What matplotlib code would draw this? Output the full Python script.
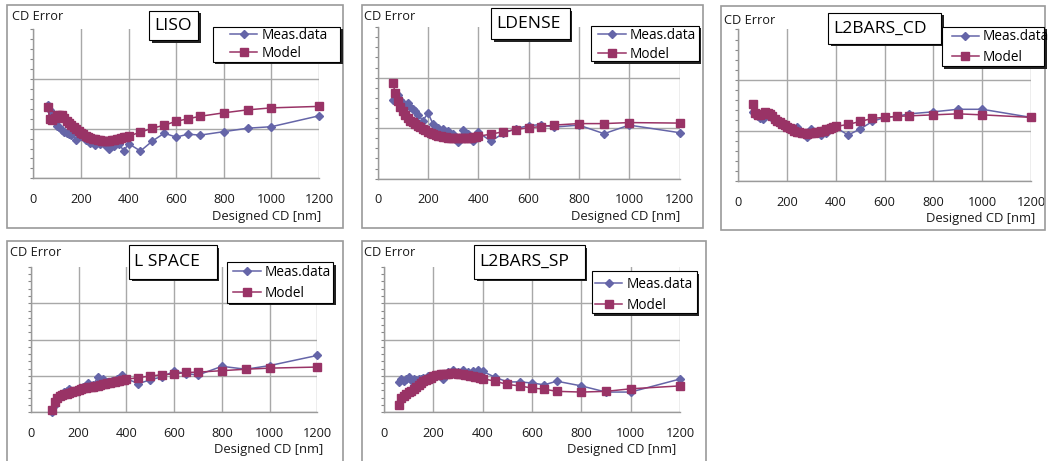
import matplotlib
matplotlib.use("Agg")
import matplotlib.pyplot as plt
from matplotlib.patches import Rectangle
from matplotlib.ticker import MultipleLocator, FixedLocator

plt.rcParams['font.family'] = ['Open Sans', 'DejaVu Sans']

# ---------------- data ----------------
X_TICKS = [0, 200, 400, 600, 800, 1000, 1200]
SERIES_NAMES = ["Meas.data", "Model"]
PANEL_TITLES = ["LISO", "LDENSE", "L2BARS_CD", "L SPACE", "L2BARS_SP"]
Y_LABEL = "CD Error"
X_LABEL = "Designed CD [nm]"

X_MODEL = [60, 70, 80, 90, 100, 110, 120, 130, 140, 150, 160, 170, 180, 190, 200,
           210, 220, 230, 240, 250, 260, 270, 280, 290, 300, 310, 320, 330, 340, 350,
           360, 370, 380, 390, 400, 450, 500, 550, 600, 650, 700, 800, 900, 1000, 1200]
X_MEAS = [60, 70, 80, 90, 100, 110, 120, 130, 140, 150, 160, 180, 200, 220, 240,
          260, 280, 300, 320, 340, 360, 380, 400, 450, 500, 550, 600, 650, 700, 800,
          900, 1000, 1200]
X_MODEL_LS = [90, 100, 110, 120, 130, 140, 150, 160, 170, 180, 190, 200, 210, 220, 230,
              240, 250, 260, 270, 280, 290, 300, 310, 320, 330, 340, 350, 360, 370, 380,
              390, 400, 450, 500, 550, 600, 650, 700, 800, 900, 1000, 1200]
X_MEAS_LS = [90, 100, 110, 120, 130, 140, 150, 160, 180, 200, 220, 240, 260, 280, 300,
             320, 340, 360, 380, 400, 450, 500, 550, 600, 650, 700, 800, 900, 1000, 1200]

LISO_MODEL = [0.44, 0.20, 0.18, 0.22, 0.27, 0.28, 0.27, 0.22, 0.16, 0.12, 0.08, 0.03, -0.01,
              -0.05, -0.08, -0.11, -0.14, -0.16, -0.18, -0.20, -0.21, -0.22, -0.23, -0.24,
              -0.24, -0.24, -0.24, -0.23, -0.22, -0.21, -0.20, -0.18, -0.17, -0.16, -0.15,
              -0.07, 0.01, 0.07, 0.15, 0.20, 0.25, 0.32, 0.38, 0.42, 0.45]
LISO_MEAS = [0.47, 0.38, 0.30, 0.15, 0.05, 0.03, -0.03, -0.06, -0.08, -0.10, -0.12,
             -0.22, -0.15, -0.22, -0.28, -0.33, -0.30, -0.33, -0.40, -0.35, -0.30, -0.45, -0.30,
             -0.45, -0.25, -0.09, -0.17, -0.11, -0.13, -0.06, 0.01, 0.04, 0.26]

LDENSE_MODEL = [0.89, 0.70, 0.54, 0.42, 0.33, 0.26, 0.20, 0.15, 0.12, 0.09, 0.05, 0.02, -0.01,
                -0.04, -0.07, -0.10, -0.12, -0.14, -0.15, -0.16, -0.17, -0.18, -0.19, -0.19,
                -0.20, -0.20, -0.20, -0.20, -0.20, -0.20, -0.19, -0.19, -0.18, -0.17, -0.16,
                -0.12, -0.07, -0.03, 0.01, 0.03, 0.06, 0.09, 0.09, 0.11, 0.10]
LDENSE_MEAS = [0.56, 0.70, 0.66, 0.55, 0.50, 0.46, 0.49, 0.42, 0.38, 0.33, 0.26,
               0.15, 0.30, 0.08, 0.00, -0.02, -0.06, -0.12, -0.28, -0.03, -0.12, -0.26, -0.08,
               -0.26, -0.10, -0.01, 0.05, 0.07, 0.02, 0.06, -0.11, 0.06, -0.09]

L2CD_MODEL = [0.53, 0.35, 0.30, 0.30, 0.33, 0.36, 0.35, 0.32, 0.28, 0.23, 0.19, 0.16, 0.13,
              0.10, 0.07, 0.04, 0.02, 0.00, -0.02, -0.03, -0.04, -0.05, -0.06, -0.05, -0.05,
              -0.04, -0.03, -0.02, -0.01, 0.00, 0.02, 0.03, 0.05, 0.06, 0.08,
              0.12, 0.18, 0.24, 0.26, 0.28, 0.29, 0.31, 0.33, 0.31, 0.26]
L2CD_MEAS = [0.36, 0.30, 0.28, 0.25, 0.22, 0.30, 0.32, 0.28, 0.24, 0.20, 0.17,
             0.13, 0.10, 0.05, 0.07, -0.02, -0.13, 0.03, -0.05, -0.08, -0.04, 0.02, 0.06,
             -0.09, 0.03, 0.18, 0.26, 0.28, 0.33, 0.37, 0.42, 0.42, 0.26]

LSPACE_MODEL = [-0.95, -0.72, -0.62, -0.57, -0.54, -0.51, -0.49, -0.47, -0.45, -0.43, -0.41,
                -0.39, -0.37, -0.35, -0.34, -0.32, -0.31, -0.30, -0.28, -0.27, -0.25, -0.24,
                -0.22, -0.21, -0.20, -0.18, -0.17, -0.15, -0.14, -0.12, -0.11, -0.10,
                -0.05, -0.01, 0.03, 0.05, 0.09, 0.10, 0.14, 0.18, 0.21, 0.24]
LSPACE_MEAS = [-1.00, -0.80, -0.60, -0.55, -0.50, -0.45, -0.42, -0.36,
               -0.42, -0.40, -0.32, -0.21, -0.26, -0.04, -0.10, -0.18, -0.14, -0.10, 0.02, -0.08,
               -0.22, -0.11, -0.03, 0.13, 0.06, 0.02, 0.26, 0.18, 0.28, 0.56]

L2SP_MODEL = [-0.80, -0.62, -0.55, -0.50, -0.45, -0.41, -0.37, -0.32, -0.26, -0.20, -0.15,
              -0.12, -0.09, -0.05, -0.01, 0.01, 0.03, 0.04, 0.05, 0.06, 0.06, 0.07, 0.07, 0.07,
              0.06, 0.05, 0.04, 0.03, 0.02, 0.00, -0.01, -0.03, -0.04, -0.06, -0.08,
              -0.15, -0.24, -0.28, -0.34, -0.37, -0.43, -0.45, -0.43, -0.36, -0.28]
L2SP_MEAS = [-0.17, -0.10, -0.14, -0.10, -0.04, -0.13, -0.10, -0.12, -0.08, -0.10, -0.05,
             -0.02, 0.00, 0.03, -0.08, 0.10, 0.16, 0.10, 0.16, 0.10, 0.12, 0.16, 0.12,
             -0.04, -0.17, -0.17, -0.20, -0.25, -0.15, -0.28, -0.45, -0.45, -0.09]

PANEL_DATA = [
    (X_MEAS, LISO_MEAS, X_MODEL, LISO_MODEL),
    (X_MEAS, LDENSE_MEAS, X_MODEL, LDENSE_MODEL),
    (X_MEAS, L2CD_MEAS, X_MODEL, L2CD_MODEL),
    (X_MEAS_LS, LSPACE_MEAS, X_MODEL_LS, LSPACE_MODEL),
    (X_MEAS, L2SP_MEAS, X_MODEL, L2SP_MODEL),
]

# ---------------- layout (pixels) ----------------
W, H = 1048, 461
C_MEAS = '#6565a8'
C_MODEL = '#993366'
GRID = '#a8a8a8'
FRAME = '#9a9a9a'
LEG_FS = 9.8

LAYOUT = [
    dict(ax=(33.3, 319.0, 29.5, 178.3), ytop=2, frame=(7, 5, 343, 228),
         title=(149, 10.7, 198, 40.5), leg=(212.7, 26.7, 340, 62), hx=230, rows=(36, 53.3),
         ylab=(11.7, 16.7), xlab=(321.7, 216.7)),
    dict(ax=(377.7, 679.5, 27.2, 178.6), ytop=2, frame=(362, 5, 703, 228),
         title=(491, 8.3, 569.5, 39.5), leg=(591, 26, 698.5, 61.5), hx=598.3, rows=(36, 54),
         ylab=(364.3, 16.7), xlab=(680, 216.7)),
    dict(ax=(738.3, 1031.0, 29.5, 181.0), ytop=2, frame=(721, 6.5, 1045, 230),
         title=(828.3, 12.7, 941, 44), leg=(941.7, 26.7, 1044, 66.5), hx=951.7, rows=(37.3, 57.3),
         ylab=(724, 20), xlab=(1035, 218.3)),
    dict(ax=(31.0, 317.3, 267.0, 412.0), ytop=3, frame=(7, 241, 343, 475),
         title=(129.3, 245.3, 216.5, 278.5), leg=(226.7, 262, 333, 302.5), hx=233.3, rows=(273, 293),
         ylab=(10, 253), xlab=(323.3, 449.7)),
    dict(ax=(384.0, 680.0, 267.0, 412.0), ytop=3, frame=(362, 241, 706, 475),
         title=(474.3, 245.3, 584.5, 278.5), leg=(591.7, 271.3, 696.5, 313), hx=595, rows=(284.7, 304.7),
         ylab=(364.3, 253), xlab=(676.7, 449.7)),
]

fig = plt.figure(figsize=(W / 100, H / 100), dpi=100)
fig.patch.set_facecolor('white')


def fx(px):
    return px / W


def fy(py):
    return 1 - py / H


def box(x0, y0, x1, y1, shadow=True, z=5):
    if shadow:
        fig.patches.append(Rectangle((fx(x0 + 2.5), fy(y1 + 2.5)), fx(x1 - x0), (y1 - y0) / H,
                                     transform=fig.transFigure, facecolor='#222222',
                                     edgecolor='none', zorder=z))
    fig.patches.append(Rectangle((fx(x0), fy(y1)), fx(x1 - x0), (y1 - y0) / H,
                                 transform=fig.transFigure, facecolor='white',
                                 edgecolor='black', linewidth=0.8, zorder=z + 0.1))


for i, (L, (xm, ym, xmod, ymod)) in enumerate(zip(LAYOUT, PANEL_DATA)):
    # outer grey frame
    fx0, fy0, fx1, fy1 = L['frame']
    fig.patches.append(Rectangle((fx(fx0), fy(fy1)), fx(fx1 - fx0), (fy1 - fy0) / H,
                                 transform=fig.transFigure, facecolor='none',
                                 edgecolor=FRAME, linewidth=1.2, zorder=1))

    x0, x1, yt, yb = L['ax']
    ax = fig.add_axes([fx(x0), fy(yb), fx(x1 - x0), (yb - yt) / H])
    ax.set_facecolor('none')
    h1, = ax.plot(xm, ym, marker='D', ms=4.3, color=C_MEAS, lw=1.1, clip_on=False,
                  zorder=3, label=SERIES_NAMES[0])
    h2, = ax.plot(xmod, ymod, marker='s', ms=5.6, color=C_MODEL, lw=1.1, clip_on=False,
                  zorder=4, label=SERIES_NAMES[1])
    ax.set_xlim(0, 1200)
    ax.set_ylim(-1, L['ytop'])
    ax.set_xticks(X_TICKS)
    ax.set_xticklabels([str(t) for t in X_TICKS])
    ax.yaxis.set_major_locator(FixedLocator(list(range(-1, L['ytop']))))
    ax.yaxis.set_minor_locator(MultipleLocator(0.2))
    ax.set_yticklabels([])
    ax.tick_params(axis='x', length=0, pad=10.5, labelsize=9.2, labelcolor='#1a1a1a')
    ax.tick_params(axis='y', which='both', direction='out', length=2.5, width=0.8,
                   color='#888888', labelleft=False)
    ax.grid(True, axis='both', which='major', color=GRID, linewidth=1.0)
    ax.set_axisbelow(True)
    for s in ('top', 'right'):
        ax.spines[s].set_visible(False)
    for s in ('left', 'bottom'):
        ax.spines[s].set_color(FRAME)
        ax.spines[s].set_linewidth(1.0)

    # labels
    fig.text(fx(L['ylab'][0]), fy(L['ylab'][1]), Y_LABEL, ha='left', va='center',
             fontsize=9.2, color='#1a1a1a')
    fig.text(fx(L['xlab'][0]), fy(L['xlab'][1]), X_LABEL, ha='right', va='center',
             fontsize=9.4, color='#1a1a1a')

    # title box
    tx0, ty0, tx1, ty1 = L['title']
    box(tx0, ty0, tx1, ty1, z=6)
    fig.text(fx(tx0 + 5), fy((ty0 + ty1) / 2), PANEL_TITLES[i], ha='left', va='center',
             fontsize=12.6, color='black', zorder=7)

    # legend box
    lx0, ly0, lx1, ly1 = L['leg']
    box(lx0, ly0, lx1, ly1, z=6)
    r0, r1 = L['rows']
    fs_px = LEG_FS * 100 / 72
    leg = fig.legend(handles=[h1, h2], labels=SERIES_NAMES, loc='center left',
                     bbox_to_anchor=(fx(L['hx']), fy((r0 + r1) / 2)),
                     bbox_transform=fig.transFigure, frameon=False, borderpad=0,
                     fontsize=LEG_FS, handlelength=2.0, handletextpad=0.3,
                     labelspacing=max(0.0, (r1 - r0 - 1.05 * fs_px) / fs_px),
                     borderaxespad=0)
    leg.set_zorder(8)

fig.savefig('out.png', dpi=100)
